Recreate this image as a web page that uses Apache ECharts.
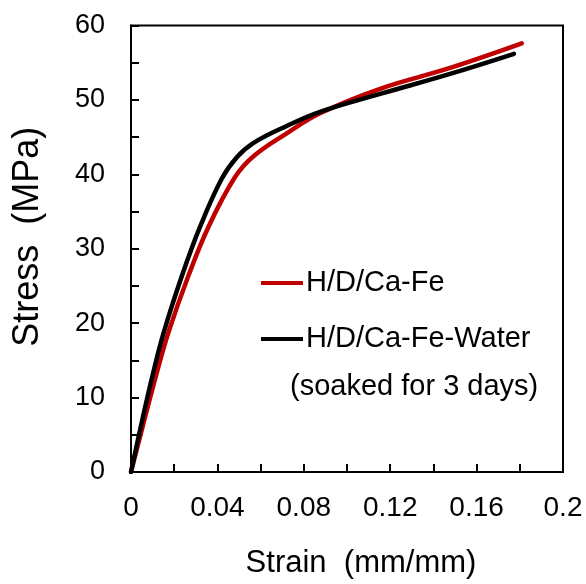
<!DOCTYPE html>
<html>
<head>
<meta charset="utf-8">
<script src="https://cdn.jsdelivr.net/npm/echarts@6/dist/echarts.min.js"></script>
<style>
html,body{margin:0;padding:0;background:#fff;}
#chart{width:586px;height:584px;}
</style>
</head>
<body>
<div id="chart"></div>
<script>
// Data
const seriesNames = ['H/D/Ca-Fe', 'H/D/Ca-Fe-Water'];
const noteText = '(soaked for 3 days)';
const strainRed = [0, 0.006, 0.012, 0.0175, 0.0265, 0.0358, 0.0481, 0.0566, 0.0721, 0.0875, 0.1153, 0.1477, 0.1809];
const stressRed = [0, 6.8, 13.4, 18.9, 26.3, 32.9, 39.6, 42.4, 45.5, 48.2, 51.5, 54.3, 57.6];
const strainBlack = [0, 0.005, 0.010, 0.015, 0.0235, 0.0319, 0.0420, 0.0490, 0.0566, 0.0721, 0.0875, 0.1153, 0.1477, 0.1773];
const stressBlack = [0, 6.7, 13.0, 18.6, 26.3, 32.9, 39.4, 42.3, 44.2, 46.5, 48.4, 50.8, 53.5, 56.2];
const xTickLabels = ['0', '0.04', '0.08', '0.12', '0.16', '0.2'];
const yTickLabels = ['0', '10', '20', '30', '40', '50', '60'];

const FONT = 'Liberation Sans, Arial, sans-serif';
const pairs = (xs, ys) => xs.map((x, i) => [x, ys[i]]);

const chart = echarts.init(document.getElementById('chart'), null, {renderer: 'canvas'});
chart.setOption({
  animation: false,
  backgroundColor: '#fff',
  grid: {left: 131, right: 23, top: 25.5, bottom: 105, show: true, borderColor: '#000', borderWidth: 2, containLabel: false},
  legend: {
    show: true,
    left: 261, top: 268,
    orient: 'vertical',
    padding: 0,
    itemGap: 26,
    itemWidth: 42, itemHeight: 4,
    icon: 'rect',
    data: seriesNames,
    textStyle: {fontFamily: FONT, fontSize: 29, color: '#000', lineHeight: 30, padding: [0, 0, 0, -2]}
  },
  graphic: [{
    type: 'text', left: 290, top: 372,
    style: {text: noteText, font: '29px ' + FONT, fill: '#000'}
  }],
  xAxis: {
    type: 'value', min: 0, max: 0.2, interval: 0.02,
    name: 'Strain  (mm/mm)', nameLocation: 'middle', nameGap: 76,
    nameTextStyle: {fontFamily: FONT, fontSize: 31, color: '#000', padding: [0, 0, 0, 28]},
    axisLine: {show: true, lineStyle: {color: '#000', width: 2}},
    axisTick: {show: true, inside: true, length: 8, lineStyle: {color: '#000', width: 2}},
    splitLine: {show: false},
    axisLabel: {
      margin: 22, fontFamily: FONT, fontSize: 28, color: '#000',
      formatter: (v, i) => (i % 2 === 0 ? xTickLabels[i / 2] : '')
    }
  },
  yAxis: {
    type: 'value', min: 0, max: 60, interval: 5,
    name: 'Stress  (MPa)', nameLocation: 'middle', nameGap: 85, nameRotate: 90,
    nameTextStyle: {fontFamily: FONT, fontSize: 36, color: '#000', padding: [0, 0, 0, 24]},
    axisLine: {show: true, lineStyle: {color: '#000', width: 2}},
    axisTick: {show: true, inside: true, length: 8, lineStyle: {color: '#000', width: 2}},
    splitLine: {show: false},
    axisLabel: {
      margin: 26, fontFamily: FONT, fontSize: 27, color: '#000',
      formatter: (v, i) => (i % 2 === 0 ? yTickLabels[i / 2] : '')
    }
  },
  series: [
    {
      name: seriesNames[0], type: 'line', data: pairs(strainRed, stressRed),
      smooth: 0.4, showSymbol: false, symbol: 'none', color: '#C00000',
      lineStyle: {width: 4.5, color: '#C00000', cap: 'round'}
    },
    {
      name: seriesNames[1], type: 'line', data: pairs(strainBlack, stressBlack),
      smooth: 0.4, showSymbol: false, symbol: 'none', color: '#000000',
      lineStyle: {width: 4.5, color: '#000000', cap: 'round'}
    }
  ]
});
</script>
</body>
</html>
